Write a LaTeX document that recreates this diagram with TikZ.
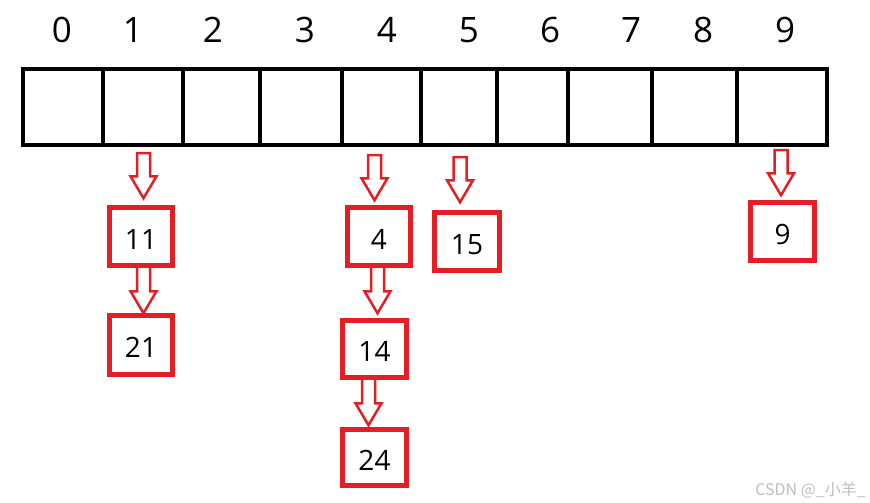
\documentclass[tikz,border=0pt]{standalone}
\usepackage{fontspec}
\setmainfont{Open Sans}
\newfontfamily\cjkfont{Noto Sans CJK SC}
\usetikzlibrary{calc}
\definecolor{boxred}{RGB}{227,30,36}
\definecolor{wmgray}{RGB}{190,190,190}
\tikzset{
 cell/.style={draw=black, line width=4pt, inner sep=0pt, minimum height=75.5pt},
 idx/.style={font=\fontsize{35}{40}\selectfont, anchor=base, inner sep=0pt},
 valbox/.style={draw=boxred, line width=4.5pt, inner sep=0pt, text height=25pt, text depth=0pt, font=\fontsize{28}{32}\selectfont},
 blk/.style={draw=boxred, line width=2.5pt, line join=miter},
 wmark/.style={font=\cjkfont\fontsize{16}{18}\selectfont, text=wmgray, anchor=base east, inner sep=0pt},
}
\newcommand\blkarrow[5]{%
 \coordinate (arT) at ($(#2.north)+(#3,-#5)$);
 \coordinate (arS) at ($(arT |- #1.south)+(0,#4)$);
 \draw[blk] ($(arS)+(-6.5,0)$) -- ($(arS)+(6.5,0)$) -- ($(arT)+(6.5,-22)$) -- ($(arT)+(13,-22)$) -- (arT) -- ($(arT)+(-13,-22)$) -- ($(arT)+(-6.5,-22)$) -- cycle;}
\begin{document}
\begin{tikzpicture}[x=1pt,y=-1pt]
\useasboundingbox (0,0) rectangle (870,503);
% array cells
\foreach \i/\a/\b in {0/23/103,1/103/183,2/183/260,3/260/342,4/342/421,5/421/497,6/497/568,7/568/652,8/652/737,9/737/827}
  \node[cell, minimum width={(\b-\a)*1pt}] (c\i) at ({(\a+\b)/2},107.25) {};
% indices
\foreach \i/\x in {0/62,1/133,2/213,3/305,4/387,5/469,6/550,7/631,8/703,9/785}
  \node[idx] (l\i) at (\x,43) {\i};
% value boxes
\node[valbox, minimum width=63pt, minimum height=58pt] (b11) at (141,236.5) {11};
\node[valbox, minimum width=63pt, minimum height=59pt] (b21) at (141,345) {21};
\node[valbox, minimum width=63pt, minimum height=58pt] (b4) at (379,236.5) {4};
\node[valbox, minimum width=65pt, minimum height=58pt] (b15) at (467,241.5) {15};
\node[valbox, minimum width=64pt, minimum height=57pt] (b14) at (374.5,349) {14};
\node[valbox, minimum width=64pt, minimum height=56pt] (b24) at (374.5,457.5) {24};
\node[valbox, minimum width=64pt, minimum height=58pt] (b9) at (782.5,231.5) {9};
% block arrows
\blkarrow{c1}{b11}{2.5}{6}{7}
\blkarrow{b11}{b21}{2.5}{-3}{0}
\blkarrow{c4}{b4}{-4.5}{8}{5}
\blkarrow{c5}{b15}{-7}{10}{8}
\blkarrow{b4}{b14}{3}{-3}{5}
\blkarrow{b14}{b24}{-6}{-3}{2}
\blkarrow{c9}{b9}{-1.5}{3}{5}
% watermark
\node[wmark] (wm) at (866,495) {CSDN @\_小羊\_};
\end{tikzpicture}
\end{document}
